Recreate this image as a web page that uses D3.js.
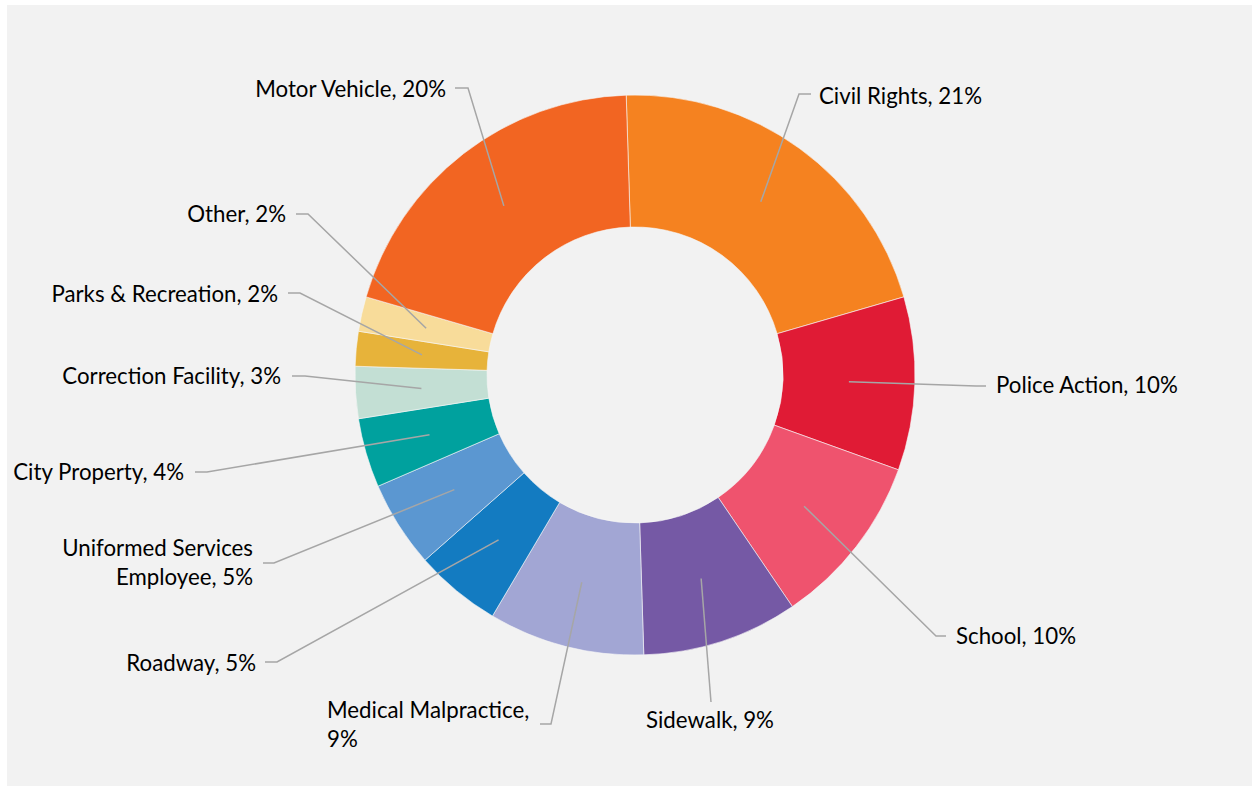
<!DOCTYPE html>
<html>
<head>
<meta charset="utf-8">
<script src="https://cdn.jsdelivr.net/npm/d3@7/dist/d3.min.js"></script>
<style>
  html, body { margin: 0; padding: 0; background: #ffffff; }
  svg { display: block; }
  text { font-family: Lato, "Open Sans", "DejaVu Sans", sans-serif; fill: #000000; }
</style>
</head>
<body>
<svg id="chart" width="1252" height="786"></svg>
<script>
// Share of claims by category (percent)
const categories = [
  "Civil Rights", "Police Action", "School", "Sidewalk", "Medical Malpractice",
  "Roadway", "Uniformed Services Employee", "City Property", "Correction Facility",
  "Parks & Recreation", "Other", "Motor Vehicle"
];
const shares = [21, 10, 10, 9, 9, 5, 5, 4, 3, 2, 2, 20];
const colors = [
  "#f58220", "#e01b35", "#ef536e", "#7559a5", "#a2a6d4",
  "#137bc1", "#5b97d1", "#00a19e", "#c3dfd4", "#e7b33a", "#f8dc9a", "#f26522"
];

// Label text lines for each slice
const labelLines = [
  ["Civil Rights, 21%"], ["Police Action, 10%"], ["School, 10%"], ["Sidewalk, 9%"],
  ["Medical Malpractice,", "9%"], ["Roadway, 5%"], ["Uniformed Services", "Employee, 5%"],
  ["City Property, 4%"], ["Correction Facility, 3%"], ["Parks & Recreation, 2%"],
  ["Other, 2%"], ["Motor Vehicle, 20%"]
];

// Callout layout: bend point, end of leader, text anchor position & alignment
const callouts = [
  { bend: [799, 94], end: [811, 94], tx: 819, ty: 104, align: "start" },
  { bend: [976, 386], end: [986, 386], tx: 996, ty: 393, align: "start" },
  { bend: [936, 636], end: [946, 636], tx: 956, ty: 644, align: "start" },
  { bend: [711, 702], end: [711, 702], tx: 710, ty: 728, align: "middle" },
  { bend: [551, 724], end: [540, 724], tx: 327, ty: 718, align: "start" },
  { bend: [277, 662], end: [265, 662], tx: 256, ty: 671, align: "end" },
  { bend: [274, 563], end: [263, 563], tx: 253, ty: 556, align: "end" },
  { bend: [207, 472], end: [195, 472], tx: 184, ty: 480, align: "end" },
  { bend: [305, 376], end: [292, 376], tx: 281, ty: 384, align: "end" },
  { bend: [300, 293], end: [288, 293], tx: 278, ty: 302, align: "end" },
  { bend: [308, 214], end: [296, 214], tx: 286, ty: 222, align: "end" },
  { bend: [468, 88], end: [455, 88], tx: 446, ty: 97, align: "end" }
];

const svg = d3.select("#chart");

// Panel background
svg.append("rect")
  .attr("x", 7).attr("y", 5)
  .attr("width", 1245).attr("height", 781)
  .attr("fill", "#f2f2f2");

const cx = 635, cy = 375;
const outerR = 280, innerR = 148, calloutR = 214;
const startDeg = -1.8;

const data = categories.map((c, i) => ({ name: c, value: shares[i], color: colors[i], lines: labelLines[i], layout: callouts[i] }));

const pie = d3.pie()
  .value(d => d.value)
  .sort(null)
  .startAngle(startDeg * Math.PI / 180)
  .endAngle(startDeg * Math.PI / 180 + 2 * Math.PI);

const arcs = pie(data);
const arc = d3.arc().innerRadius(innerR).outerRadius(outerR);
const calloutArc = d3.arc().innerRadius(calloutR).outerRadius(calloutR);

const g = svg.append("g").attr("transform", `translate(${cx},${cy})`);

g.selectAll("path.slice")
  .data(arcs)
  .enter().append("path")
  .attr("class", "slice")
  .attr("d", arc)
  .attr("fill", d => d.data.color)
  .attr("stroke", "#f6f6f6")
  .attr("stroke-width", 0.6);

// Fit label font size so the type runs about as wide as intended
const probe = svg.append("text").attr("font-size", 20).text("Motor Vehicle, 20%");
const probeW = probe.node().getComputedTextLength();
probe.remove();
const fontSize = Math.max(16, Math.min(26, 20 * 191 / probeW));

// Leader lines
svg.selectAll("polyline.leader")
  .data(arcs)
  .enter().append("polyline")
  .attr("class", "leader")
  .attr("points", d => {
    const c = calloutArc.centroid(d);
    const L = d.data.layout;
    return [[cx + c[0], cy + c[1]], L.bend, L.end].map(p => p.join(",")).join(" ");
  })
  .attr("fill", "none")
  .attr("stroke", "#a6a6a6")
  .attr("stroke-width", 1.5);

// Category labels
const labels = svg.selectAll("text.label")
  .data(arcs)
  .enter().append("text")
  .attr("class", "label")
  .attr("font-size", fontSize)
  .attr("text-anchor", d => d.data.layout.align)
  .attr("x", d => d.data.layout.tx)
  .attr("y", d => d.data.layout.ty);

labels.each(function(d) {
  const t = d3.select(this);
  d.data.lines.forEach((line, i) => {
    t.append("tspan")
      .attr("x", d.data.layout.tx)
      .attr("dy", i === 0 ? 0 : 29)
      .text(line);
  });
});
</script>
</body>
</html>
